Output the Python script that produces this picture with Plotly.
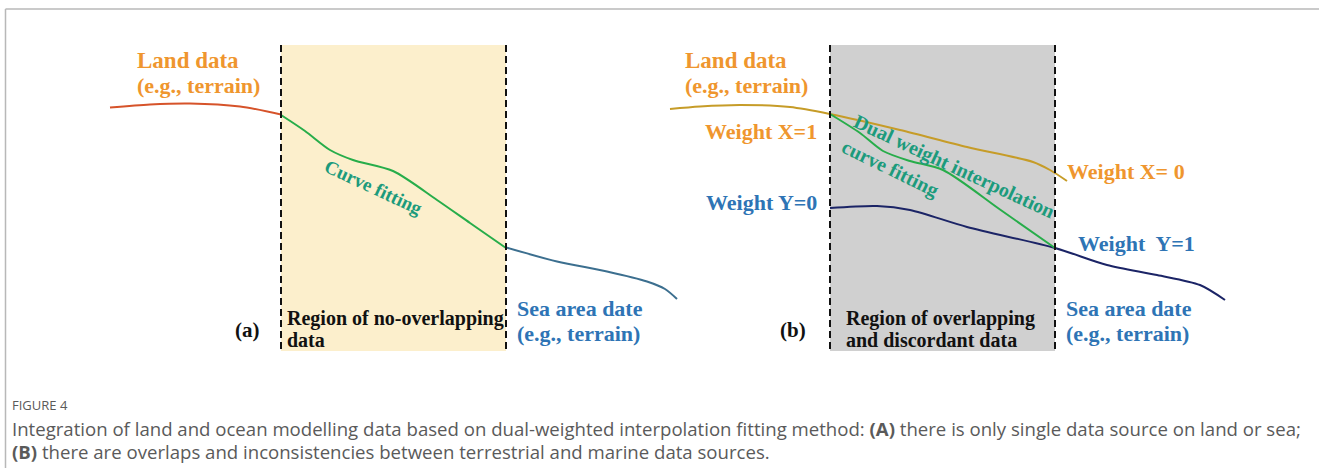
import plotly.graph_objects as go

# Canvas units: x runs 0..1319 left to right, y runs 0..468 top to bottom
W, H = 1319, 468

# ---- Panel (a): single data source on land or sea ----
land_a_x = [110, 150, 190, 240, 281]
land_a_y = [107.5, 104.5, 103.5, 106.5, 114.5]

fit_a_x = [281, 305, 330, 353, 393, 437, 470, 506]
fit_a_y = [115, 131, 150, 160, 171, 200, 223, 248]

sea_a_x = [506, 557, 607, 647, 665, 677]
sea_a_y = [247.5, 261.5, 271.5, 281.5, 289, 299]

region_a = [281, 506]

# ---- Panel (b): overlapping and discordant sources ----
land_b_x = [670, 700, 740, 790, 830, 900, 967, 1033, 1050, 1067]
land_b_y = [109, 106.5, 105, 107, 114, 130, 147, 162, 170, 181]

fit_b_x = [830, 860, 883, 910, 943, 1000, 1055]
fit_b_y = [114, 133, 151, 161, 170, 209.5, 248]

sea_b_x = [830, 877, 910, 967, 1055, 1107, 1157, 1200, 1225]
sea_b_y = [208, 206, 210, 227, 248, 265, 275, 285, 300]

region_b = [830, 1055]
region_top, region_bottom = 45, 352

SERIF = "Liberation Serif"
ORANGE = "#ef962e"
BLUE_TXT = "#2e74b5"
TEAL_TXT = "#1c9b7c"

fig = go.Figure()


def curve(x, y, color):
    fig.add_trace(go.Scatter(
        x=x, y=y, mode="lines",
        line=dict(color=color, width=2, shape="spline", smoothing=0.8),
        hoverinfo="skip", showlegend=False))


curve(land_a_x, land_a_y, "#d6532a")
curve(fit_a_x, fit_a_y, "#27ad4a")
curve(sea_a_x, sea_a_y, "#3c6f8f")

curve(land_b_x, land_b_y, "#c69c28")
curve(sea_b_x, sea_b_y, "#1b2466")
curve(fit_b_x, fit_b_y, "#27ad4a")

shapes = [
    # outer frame (top and left edges)
    dict(type="line", xref="x", yref="y", x0=5.5, x1=W, y0=9, y1=9,
         line=dict(color="#b8b8b8", width=1.5)),
    dict(type="line", xref="x", yref="y", x0=5.5, x1=5.5, y0=9, y1=H,
         line=dict(color="#b8b8b8", width=1.5)),
    # shaded regions
    dict(type="rect", xref="x", yref="y", x0=region_a[0], x1=region_a[1],
         y0=region_top, y1=region_bottom - 1, fillcolor="#fcefcc",
         line=dict(width=0), layer="below"),
    dict(type="rect", xref="x", yref="y", x0=region_b[0], x1=region_b[1],
         y0=region_top, y1=region_bottom - 1, fillcolor="#d0d0d0",
         line=dict(width=0), layer="below"),
]
for xv in region_a + region_b:
    shapes.append(dict(type="line", xref="x", yref="y", x0=xv, x1=xv,
                       y0=region_top, y1=region_bottom,
                       line=dict(color="#111111", width=2, dash="7px,4px"),
                       layer="above"))

annotations = []


def label(text, x, y, color, size=22, xanchor="left", angle=0, family=SERIF):
    annotations.append(dict(
        text=text, x=x, y=y, xref="x", yref="y", showarrow=False,
        xanchor=xanchor, yanchor="middle", textangle=angle,
        font=dict(family=family, size=size, color=color)))


# panel (a) labels
label("<b>Land data</b>", 135, 60, ORANGE, size=23)
label("<b>(e.g., terrain)</b>", 135, 85, ORANGE)
label("<b>Curve fitting</b>", 374, 187, TEAL_TXT, size=19, xanchor="center", angle=25)
label("<b>(a)</b>", 247, 330, "#111111", size=21, xanchor="center")
label("<b>Region of no-overlapping</b>", 285, 318, "#111111", size=20)
label("<b>data</b>", 285, 340, "#111111", size=20)
label("<b>Sea area date</b>", 515, 308, BLUE_TXT)
label("<b>(e.g., terrain)</b>", 515, 333, BLUE_TXT)

# panel (b) labels
label("<b>Land data</b>", 683, 60, ORANGE, size=23)
label("<b>(e.g., terrain)</b>", 683, 85, ORANGE)
label("<b>Weight X=1</b>", 819, 131, ORANGE, xanchor="right")
label("<b>Weight Y=0</b>", 819, 202, BLUE_TXT, xanchor="right")
label("<b>Weight X= 0</b>", 1065, 171, ORANGE)
label("<b>Weight\u00a0 Y=1</b>", 1076, 243, BLUE_TXT)
label("<b>Dual weight interpolation</b>", 954, 166, TEAL_TXT, size=20, xanchor="center", angle=25)
label("<b>curve fitting</b>", 890, 168, TEAL_TXT, size=20, xanchor="center", angle=26)
label("<b>(b)</b>", 793, 330, "#111111", size=21, xanchor="center")
label("<b>Region of overlapping</b>", 844, 318, "#111111", size=20)
label("<b>and discordant data</b>", 844, 340, "#111111", size=20)
label("<b>Sea area date</b>", 1064, 308, BLUE_TXT)
label("<b>(e.g., terrain)</b>", 1064, 333, BLUE_TXT)

# caption
CAP = "Open Sans"
label("FIGURE 4", 10, 405, "#5a5a5a", size=13, family=CAP)
label("Integration of land and ocean modelling data based on dual-weighted interpolation "
      "fitting method: <b>(A)</b> there is only single data source on land or sea;",
      10, 428, "#5a5a5a", size=18.6, family=CAP)
label("<b>(B)</b> there are overlaps and inconsistencies between terrestrial and marine data sources.",
      10, 451, "#5a5a5a", size=18.6, family=CAP)

fig.update_layout(
    width=W, height=H,
    margin=dict(l=0, r=0, t=0, b=0),
    paper_bgcolor="white", plot_bgcolor="white",
    xaxis=dict(range=[0, W], visible=False, fixedrange=True),
    yaxis=dict(range=[H, 0], visible=False, fixedrange=True),
    shapes=shapes, annotations=annotations,
)

fig.write_html("out.html")
